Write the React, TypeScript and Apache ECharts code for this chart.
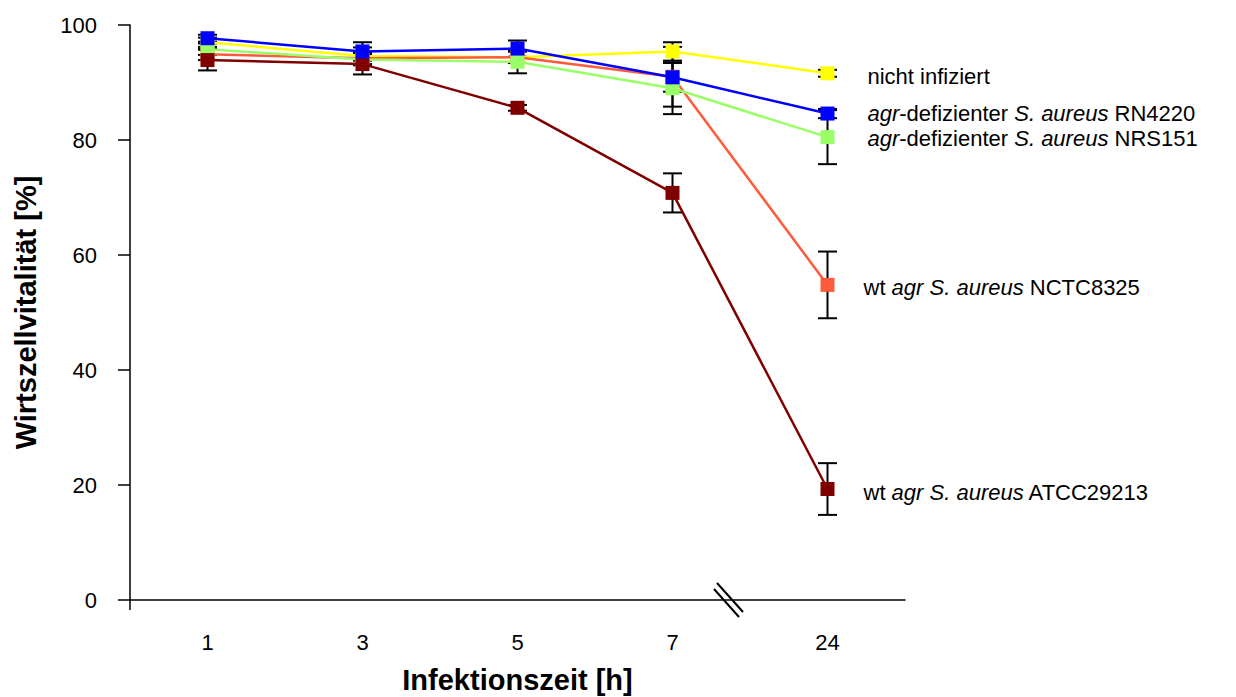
import React, { useEffect, useRef } from "react";
import * as echarts from "echarts";

const categories = ["1", "3", "5", "7", "24"];

const nichtInfiziert = [97.0, 94.6, 94.4, 95.4, 91.6];
const rn4220 = [97.7, 95.4, 95.9, 90.9, 84.6];
const nrs151 = [95.8, 94.0, 93.6, 89.0, 80.5];
const nctc8325 = [94.9, 94.2, 94.4, 91.0, 54.8];
const atcc29213 = [93.9, 93.2, 85.6, 70.8, 19.3];

const errNicht = [0.8, 1.5, 1.0, 1.6, 0.6];
const errRn4220 = [0.6, 1.6, 1.4, 2.5, 0.8];
const errNrs151 = [1.0, 1.0, 2.0, 4.5, 4.7];
const errNctc8325 = [1.0, 1.0, 1.0, 5.2, 5.8];
const errAtcc29213 = [1.8, 1.8, 0.5, 3.4, 4.5];

const yTicks = [0, 20, 40, 60, 80, 100];

const FONT = "'Liberation Sans', Arial, sans-serif";
const LABEL_SIZE = 22;

export default function App() {
  const ref = useRef<HTMLDivElement>(null);

  useEffect(() => {
    if (!ref.current) return;
    const chart = echarts.init(ref.current, null, { renderer: "svg" });

    const seriesDefs = [
      { name: "nicht infiziert", data: nichtInfiziert, err: errNicht, color: "#FFFF00", label: "nicht infiziert", offset: [0, 3] },
      { name: "wt agr S. aureus NCTC8325", data: nctc8325, err: errNctc8325, color: "#FF5A3C", label: "wt {i|agr S. aureus} NCTC8325", offset: [-4, 3] },
      { name: "agr-defizienter S. aureus NRS151", data: nrs151, err: errNrs151, color: "#99FF66", label: "{i|agr}-defizienter {i|S. aureus} NRS151", offset: [0, 1] },
      { name: "wt agr S. aureus ATCC29213", data: atcc29213, err: errAtcc29213, color: "#800000", label: "wt {i|agr S. aureus} ATCC29213", offset: [-4, 3] },
      { name: "agr-defizienter S. aureus RN4220", data: rn4220, err: errRn4220, color: "#0000FF", label: "{i|agr}-defizienter {i|S. aureus} RN4220", offset: [0, 0] },
    ];

    const errorSeries = seriesDefs.map((s) => ({
      type: "custom",
      name: s.name + " err",
      z: 1,
      silent: true,
      data: s.data.map((v, i) => [i, v - s.err[i], v + s.err[i]]),
      renderItem: (params: any, api: any) => {
        const x = api.value(0);
        const lo = api.coord([x, api.value(1)]);
        const hi = api.coord([x, api.value(2)]);
        const hw = 9.5;
        const style = { stroke: "#000", lineWidth: 2 };
        return {
          type: "group",
          children: [
            { type: "line", shape: { x1: lo[0], y1: lo[1], x2: hi[0], y2: hi[1] }, style },
            { type: "line", shape: { x1: lo[0] - hw, y1: lo[1], x2: lo[0] + hw, y2: lo[1] }, style },
            { type: "line", shape: { x1: hi[0] - hw, y1: hi[1], x2: hi[0] + hw, y2: hi[1] }, style },
          ],
        };
      },
    }));

    const lineSeries = seriesDefs.map((s, k) => ({
      type: "line",
      name: s.name,
      z: 3 + k,
      symbol: "rect",
      symbolSize: 14,
      lineStyle: { color: s.color, width: 2.5 },
      itemStyle: { color: s.color },
      data: s.data.map((v, i) =>
        i === s.data.length - 1
          ? {
              value: v,
              label: {
                show: true,
                position: "right",
                distance: 33,
                offset: s.offset,
                formatter: s.label,
                color: "#000",
                fontSize: LABEL_SIZE,
                fontFamily: FONT,
                rich: {
                  i: { fontStyle: "italic", fontSize: LABEL_SIZE, fontFamily: FONT, color: "#000" },
                },
              },
            }
          : v
      ),
    }));

    chart.setOption({
      animation: false,
      backgroundColor: "#fff",
      grid: { left: 130, right: 331, top: 25, bottom: 97, containLabel: false, outerBoundsMode: "none" },
      xAxis: {
        type: "category",
        data: categories,
        boundaryGap: true,
        name: "Infektionszeit [h]",
        nameLocation: "middle",
        nameGap: 65,
        nameTextStyle: { fontSize: 29, fontWeight: "bold", fontFamily: FONT, color: "#000" },
        axisLine: { lineStyle: { color: "#000", width: 1.5 } },
        axisTick: { alignWithLabel: true, length: 9, lineStyle: { color: "#000", width: 1.5 } },
        axisLabel: { fontSize: 22, fontFamily: FONT, color: "#000", margin: 31 },
        splitLine: { show: false },
      },
      yAxis: {
        type: "value",
        min: yTicks[0],
        max: yTicks[yTicks.length - 1],
        interval: yTicks[1] - yTicks[0],
        name: "Wirtszellvitalität [%]",
        nameLocation: "middle",
        nameGap: 90,
        nameTextStyle: { fontSize: 29, fontWeight: "bold", fontFamily: FONT, color: "#000" },
        axisLine: { show: true, lineStyle: { color: "#000", width: 1.5 } },
        axisTick: { show: true, length: 12, lineStyle: { color: "#000", width: 1.5 } },
        axisLabel: { fontSize: 22, fontFamily: FONT, color: "#000", margin: 33 },
        splitLine: { show: false },
      },
      graphic: [
        { type: "line", shape: { x1: 130, y1: 600, x2: 130, y2: 610 }, style: { stroke: "#000", lineWidth: 1.5 } },
        { type: "line", shape: { x1: 714, y1: 589, x2: 739, y2: 617 }, style: { stroke: "#000", lineWidth: 2 } },
        { type: "line", shape: { x1: 717, y1: 583, x2: 743, y2: 612 }, style: { stroke: "#000", lineWidth: 2 } },
      ],
      series: [...errorSeries, ...lineSeries],
    });

    return () => chart.dispose();
  }, []);

  return <div ref={ref} style={{ position: "absolute", left: 0, top: 0, width: 1236, height: 697 }} />;
}
